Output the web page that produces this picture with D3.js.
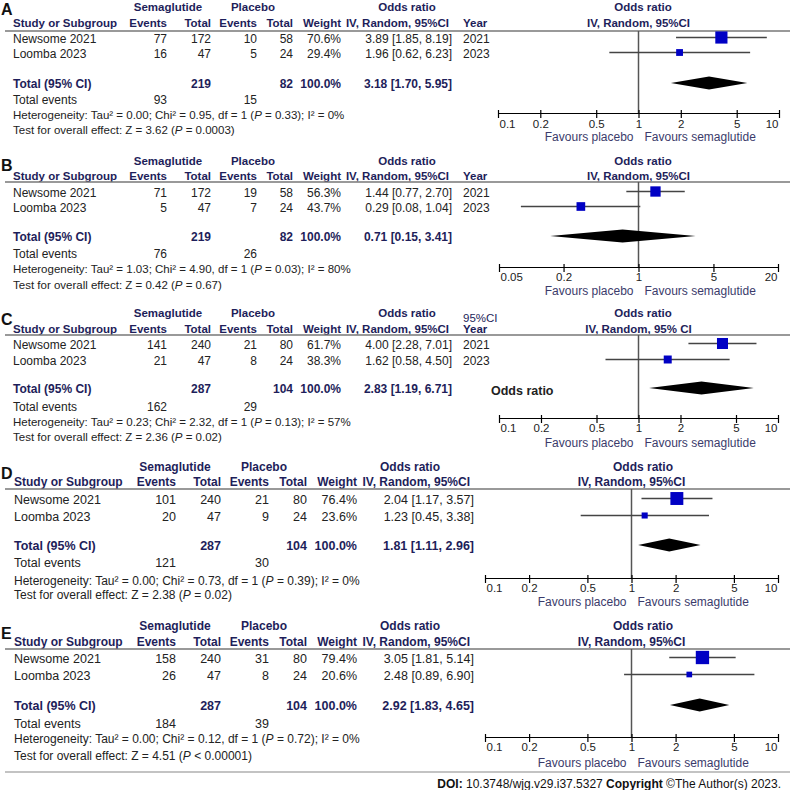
<!DOCTYPE html>
<html><head><meta charset="utf-8">
<script src="https://cdn.jsdelivr.net/npm/d3@7"></script>
<style>body{margin:0;background:#fff}svg{display:block;font-family:"Liberation Sans",Arial,sans-serif}</style>
</head><body><svg id="c" width="790" height="790"></svg>
<script>
// ---------- DATA ----------
const panelLabels = ["A","B","C","D","E"];
const studyNames = ["Newsome 2021","Loomba 2023"];
const studyYears = ["2021","2023"];
const semaEvents = [[77,16],[71,5],[141,21],[101,20],[158,26]];
const semaTotal  = [[172,47],[172,47],[240,47],[240,47],[240,47]];
const placEvents = [[10,5],[19,7],[21,8],[21,9],[31,8]];
const placTotal  = [[58,24],[58,24],[80,24],[80,24],[80,24]];
const weights    = [[70.6,29.4],[56.3,43.7],[61.7,38.3],[76.4,23.6],[79.4,20.6]];
const orEst  = [[3.89,1.96],[1.44,0.29],[4.00,1.62],[2.04,1.23],[3.05,2.48]];
const orLow  = [[1.85,0.62],[0.77,0.08],[2.28,0.58],[1.17,0.45],[1.81,0.89]];
const orHigh = [[8.19,6.23],[2.70,1.04],[7.01,4.50],[3.57,3.38],[5.14,6.90]];
const totalSema = [219,219,287,287,287];
const totalPlac = [82,82,104,104,104];
const totalSemaEvents = [93,76,162,121,184];
const totalPlacEvents = [15,26,29,30,39];
const pooledOR   = [3.18,0.71,2.83,1.81,2.92];
const pooledLow  = [1.70,0.15,1.19,1.11,1.83];
const pooledHigh = [5.95,3.41,6.71,2.96,4.65];
const tau2 = ["0.00","1.03","0.23","0.00","0.00"];
const chi2 = ["0.95","4.90","2.32","0.73","0.12"];
const hetP = ["0.33","0.03","0.13","0.39","0.72"];
const iSq  = ["0","80","57","0","0"];
const zVal = ["3.62","0.42","2.36","2.38","4.51"];
const zP   = ["= 0.0003","= 0.67","= 0.02","= 0.02","< 0.00001"];
const ticksWide = [0.1,0.2,0.5,1,2,5,10];
const ticksB = [0.05,0.2,1,5,20];
const axisTicks = [ticksWide, ticksB, ticksWide, ticksWide, ticksWide];
const showYear = [true,true,true,false,false];
const plotSubtitle = ["IV, Random, 95%CI","IV, Random, 95%CI","IV, Random, 95% CI","IV, Random, 95%CI","IV, Random, 95%CI"];

// ---------- LAYOUT ----------
const colsAC = {name:13, se:167, st:211, pe:257, pt:293, w:341, or:452, yr:463, semaH:168, placH:253, orH1:407, orH2:449, fs:12, fsH:11.5, fsF:11.5};
const colsDE = {name:14, se:176, st:221, pe:269, pt:307, w:357, or:474, yr:0, semaH:175, placH:264, orH1:410, orH2:470, fs:12.5, fsH:12, fsF:12};
const cols = [colsAC, colsAC, colsAC, colsDE, colsDE];
const ys = [
 {h1:7,h2:23,line:31,r:[39,54],tot:84,tev:100,het:115,test:130,axis:113,tick:124,fav:137,letter:15},
 {h1:161,h2:176,line:182,r:[193,208],tot:237,tev:254,het:269,test:285,axis:267,tick:277,fav:291,letter:171},
 {h1:313,h2:329,line:335,r:[345,361],tot:389,tev:407,het:422,test:437,axis:418,tick:428,fav:443,letter:325},
 {h1:467,h2:482,line:489,r:[500,517],tot:546,tev:563,het:581,test:595,axis:578,tick:588,fav:602,letter:479},
 {h1:626,h2:642,line:649,r:[659,676],tot:706,tev:724,het:739,test:756,axis:737,tick:747,fav:763,letter:639}
];
const xRanges = [[498,779],[499,778],[499,778],[485,778],[485,778]];
const NAVY = "#1e1e5a", BODY = "#222", FAV = "#3b3b6b", BLUE = "#0000c4";

const svg = d3.select("#c");
const sizeScale = d3.scaleLinear().domain([0,100]).range([3,16]);

function txt(g, x, y, s, o={}) {
  const t = g.append("text").attr("x", x).attr("y", y)
    .attr("dominant-baseline","central")
    .attr("text-anchor", o.anchor || "start")
    .attr("font-size", o.fs || 12)
    .attr("font-weight", o.bold ? "bold" : "normal")
    .attr("fill", o.fill || BODY);
  if (s !== null) t.text(s);
  return t;
}
const f2 = v => v.toFixed(2);

panelLabels.forEach((lab, i) => {
  const c = cols[i], Y = ys[i];
  const g = svg.append("g");
  const H = {fs:c.fsH, bold:true, fill:NAVY};
  const x = d3.scaleLog().domain(d3.extent(axisTicks[i])).range(xRanges[i]);

  g.append("text").attr("x",1).attr("y",Y.letter).attr("font-size",16).attr("font-weight","bold").attr("fill","#111").text(lab);

  txt(g, c.semaH, Y.h1, "Semaglutide", {...H, anchor:"middle"});
  txt(g, c.placH, Y.h1, "Placebo", {...H, anchor:"middle"});
  txt(g, c.orH1, Y.h1, "Odds ratio", {...H, anchor:"middle"});
  txt(g, 643, Y.h1, "Odds ratio", {...H, anchor:"middle"});
  txt(g, c.name, Y.h2, "Study or Subgroup", H);
  txt(g, c.se, Y.h2, "Events", {...H, anchor:"end"});
  txt(g, c.st, Y.h2, "Total", {...H, anchor:"end"});
  txt(g, c.pe, Y.h2, "Events", {...H, anchor:"end"});
  txt(g, c.pt, Y.h2, "Total", {...H, anchor:"end"});
  txt(g, c.w, Y.h2, "Weight", {...H, anchor:"end"});
  txt(g, c.orH2, Y.h2, "IV, Random, 95%CI", {...H, anchor:"end"});
  if (showYear[i]) txt(g, c.yr, Y.h2, "Year", H);
  txt(g, x(1), Y.h2, plotSubtitle[i], {...H, anchor:"middle"});
  if (i === 2) {
    txt(g, c.yr, Y.h1 + 5, "95%CI", {fs:c.fsH, fill:NAVY});
    txt(g, 491, Y.tot + 2, "Odds ratio", {fs:12.5, bold:true, fill:"#222"});
  }

  g.append("line").attr("x1",5).attr("x2",790).attr("y1",Y.line).attr("y2",Y.line)
    .attr("stroke","#777").attr("stroke-width",1.5);

  studyNames.forEach((nm, j) => {
    const y = Y.r[j];
    txt(g, c.name, y, nm, {fs:c.fs});
    txt(g, c.se, y, semaEvents[i][j], {fs:c.fs, anchor:"end"});
    txt(g, c.st, y, semaTotal[i][j], {fs:c.fs, anchor:"end"});
    txt(g, c.pe, y, placEvents[i][j], {fs:c.fs, anchor:"end"});
    txt(g, c.pt, y, placTotal[i][j], {fs:c.fs, anchor:"end"});
    txt(g, c.w, y, weights[i][j].toFixed(1) + "%", {fs:c.fs, anchor:"end"});
    txt(g, c.or, y, `${f2(orEst[i][j])} [${f2(orLow[i][j])}, ${f2(orHigh[i][j])}]`, {fs:c.fs, anchor:"end"});
    if (showYear[i]) txt(g, c.yr, y, studyYears[j], {fs:c.fs});
  });

  const T = {fs:c.fs, bold:true, fill:NAVY};
  txt(g, c.name, Y.tot, "Total (95% CI)", T);
  txt(g, c.st, Y.tot, totalSema[i], {...T, anchor:"end"});
  txt(g, c.pt, Y.tot, totalPlac[i], {...T, anchor:"end"});
  txt(g, c.w, Y.tot, "100.0%", {...T, anchor:"end"});
  txt(g, c.or, Y.tot, `${f2(pooledOR[i])} [${f2(pooledLow[i])}, ${f2(pooledHigh[i])}]`, {...T, anchor:"end"});

  txt(g, c.name, Y.tev, "Total events", {fs:c.fs});
  txt(g, c.se, Y.tev, totalSemaEvents[i], {fs:c.fs, anchor:"end"});
  txt(g, c.pe, Y.tev, totalPlacEvents[i], {fs:c.fs, anchor:"end"});

  const h = txt(g, c.name, Y.het, null, {fs:c.fsF});
  h.append("tspan").text(`Heterogeneity: Tau² = ${tau2[i]}; Chi² = ${chi2[i]}, df = 1 (`);
  h.append("tspan").attr("font-style","italic").text("P");
  h.append("tspan").text(` = ${hetP[i]}); I² = ${iSq[i]}%`);
  const z = txt(g, c.name, Y.test, null, {fs:c.fsF});
  z.append("tspan").text(`Test for overall effect: Z = ${zVal[i]} (`);
  z.append("tspan").attr("font-style","italic").text("P");
  z.append("tspan").text(` ${zP[i]})`);

  g.append("line").attr("x1",x(1)).attr("x2",x(1)).attr("y1",Y.line).attr("y2",Y.axis)
    .attr("stroke","#555").attr("stroke-width",1.5);

  studyNames.forEach((nm, j) => {
    const cy = Y.r[j] - 1.5;
    g.append("line").attr("x1",x(orLow[i][j])).attr("x2",x(orHigh[i][j]))
      .attr("y1",cy).attr("y2",cy).attr("stroke","#444").attr("stroke-width",1.3);
    const s = sizeScale(weights[i][j]);
    g.append("rect").attr("x",x(orEst[i][j]) - s/2).attr("y",cy - s/2)
      .attr("width",s).attr("height",s).attr("fill",BLUE);
  });

  const dy = Y.tot - 1, dh = 6.5;
  g.append("polygon").attr("points",[
      [x(pooledLow[i]),dy],[x(pooledOR[i]),dy-dh],[x(pooledHigh[i]),dy],[x(pooledOR[i]),dy+dh]
    ].map(p=>p.join(",")).join(" ")).attr("fill","#000");

  const ax = g.append("g").attr("transform",`translate(0,${Y.axis})`)
    .call(d3.axisBottom(x).tickValues(axisTicks[i]).tickSize(5).tickSizeOuter(0).tickFormat(d3.format("~g")));
  ax.select(".domain").attr("stroke","#000").attr("stroke-width",1.2);
  ax.selectAll(".tick line").attr("y1",-3).attr("stroke","#000").attr("stroke-width",1.2);
  const n = axisTicks[i].length;
  ax.selectAll(".tick text").attr("y", Y.tick - Y.axis).attr("dy","0.35em")
    .attr("font-size",11.5).attr("font-family","Liberation Sans, Arial, sans-serif").attr("fill",BODY)
    .attr("text-anchor",(d,k)=> k===0 ? "start" : (k===n-1 ? "end" : "middle"))
    .attr("dx",(d,k)=> k===0 ? 1 : (k===n-1 ? -1 : 0));

  txt(g, x(1) - 5, Y.fav, "Favours placebo", {fs:12, anchor:"end", fill:FAV});
  txt(g, x(1) + 6, Y.fav, "Favours semaglutide", {fs:12, fill:FAV});
});

svg.append("line").attr("x1",5).attr("x2",790).attr("y1",772).attr("y2",772).attr("stroke","#888").attr("stroke-width",1.2);
const ft = svg.append("text").attr("x",781).attr("y",784).attr("dominant-baseline","central")
  .attr("text-anchor","end").attr("font-size",12).attr("fill","#111");
ft.append("tspan").attr("font-weight","bold").text("DOI: ");
ft.append("tspan").text("10.3748/wjg.v29.i37.5327  ");
ft.append("tspan").attr("font-weight","bold").text("Copyright ");
ft.append("tspan").text("©The Author(s) 2023.");
</script></body></html>
